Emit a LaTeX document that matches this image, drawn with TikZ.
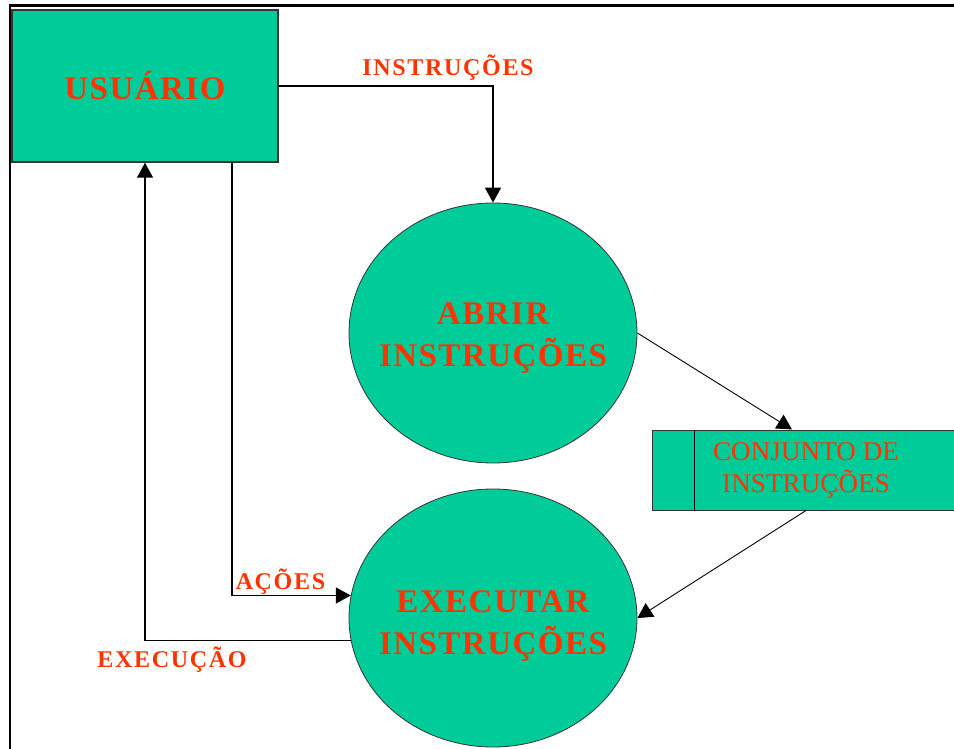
\documentclass[tikz,border=0pt]{standalone}
\usepackage{fontspec}
\setmainfont{Liberation Serif}
\newfontfamily\procfont[LetterSpace=4.5]{Liberation Serif}
\newfontfamily\flowfont[LetterSpace=7]{Liberation Serif}
\newfontfamily\storefont[LetterSpace=0.5]{Liberation Serif}
\usepackage{tikz}
\usetikzlibrary{shapes, arrows.meta, positioning, calc}
\definecolor{dfdgreen}{RGB}{0,204,153}
\definecolor{dfdred}{RGB}{255,51,0}

\begin{document}
\begin{tikzpicture}[x=1pt, y=-1pt, >={Triangle[length=15pt,width=16pt]},
        entity/.style={rectangle, draw=black!80, line width=1.5pt, fill=dfdgreen, minimum width=266pt, minimum height=152pt, text=dfdred, font=\procfont\bfseries\fontsize{33}{42}\selectfont},
        process/.style={ellipse, draw=black!80, line width=0.8pt, fill=dfdgreen, minimum width=288pt, minimum height=260pt, inner sep=0pt},
        proctext/.style={align=center, inner sep=0pt, text=dfdred, font=\procfont\bfseries\fontsize{33}{42}\selectfont},
        store/.style={rectangle, draw=black!80, line width=1pt, fill=dfdgreen, minimum width=307pt, minimum height=80pt, inner sep=0pt, align=center, text=dfdred, font=\storefont\fontsize{27}{32}\selectfont},
        flow/.style={text=dfdred, inner sep=0pt, font=\flowfont\bfseries\fontsize{24}{28}\selectfont},
        line/.style={draw, line width=1.5pt, ->},
        thinline/.style={draw, line width=0.9pt, ->}]
        \useasboundingbox (0,0) rectangle (954,749);
        % frame
        \draw[line width=3pt] (9,6) -- (960,6);
        \draw[line width=2pt] (10,5) -- (10,760);

        \node [entity] (usuario) at (145,86) {USUÁRIO};
        \node [process] (abrir) at (493,333) {};
        \node [proctext] (abrirtext) at ([yshift=-5]abrir.center) {ABRIR\\INSTRUÇÕES};
        \node [process, minimum height=258pt] (executar) at (493,618) {};
        \node [proctext] (executartext) at ([yshift=-8]executar.center) {EXECUTAR\\INSTRUÇÕES};
        \node [store] (conjunto) at (806,470) {CONJUNTO DE\\INSTRUÇÕES};
        \draw [line width=1pt] ([xshift=42]conjunto.north west) -- ([xshift=42]conjunto.south west);

        \path [line] (usuario.east) -| node[flow, pos=0.395, anchor=base, yshift=10] {INSTRUÇÕES} (abrir.north);
        \path [thinline] (abrir.east) -- ([xshift=-14]conjunto.north);
        \path [thinline] (conjunto.south) -- (executar.east);
        \path [line] ([xshift=87]usuario.south) |- node[flow, pos=0.5, anchor=base west, xshift=3, yshift=6] {AÇÕES} (executar.171);
        \path [line] (executar.189) -| node[flow, pos=0.5, anchor=base, xshift=27, yshift=-27] {EXECUÇÃO} (usuario.south);

    \end{tikzpicture}
\end{document}
